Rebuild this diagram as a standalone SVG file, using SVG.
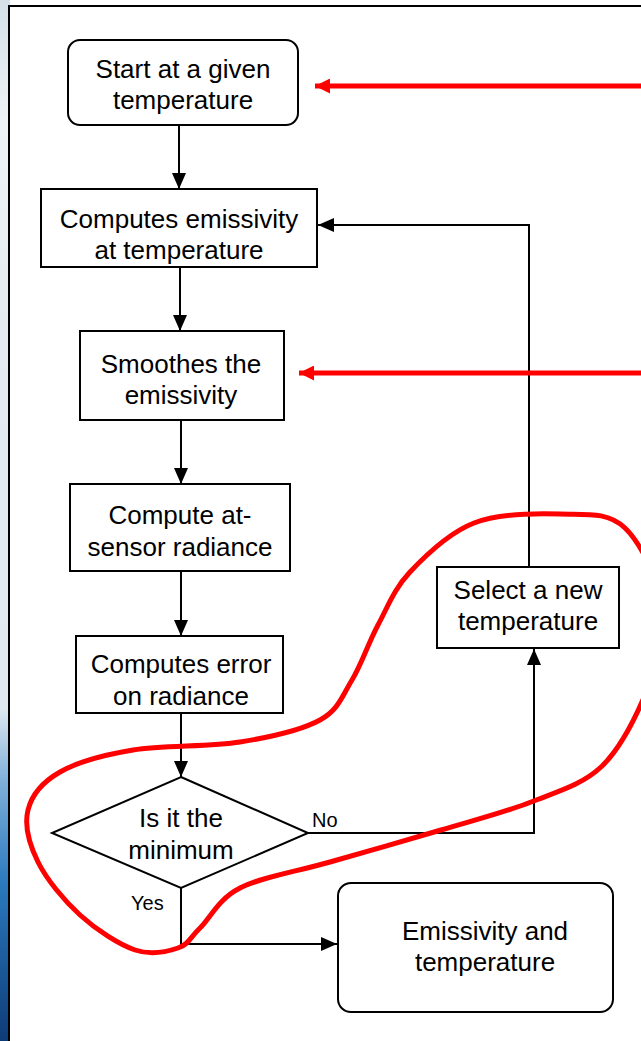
<svg xmlns="http://www.w3.org/2000/svg" width="641" height="1041" viewBox="0 0 641 1041">
<style>
.box{fill:#fff;stroke:#000;stroke-width:2}
.t{font-family:"Liberation Sans",Arial,sans-serif;font-size:26px;fill:#000;text-anchor:middle}
.s{font-family:"Liberation Sans",Arial,sans-serif;font-size:20px;fill:#000}
.c{fill:none;stroke:#000;stroke-width:2}
.r{fill:none;stroke:#ff0000;stroke-width:5}
</style>
<defs>
<linearGradient id="bg" x1="0" y1="0" x2="0" y2="1">
<stop offset="0" stop-color="#d4dfe8"/>
<stop offset="0.12" stop-color="#eef3f7"/>
<stop offset="0.3" stop-color="#e4ebf1"/>
<stop offset="0.68" stop-color="#dfe8f0"/>
<stop offset="0.75" stop-color="#7fb0da"/>
<stop offset="0.85" stop-color="#2a78bd"/>
<stop offset="1" stop-color="#0e3c78"/>
</linearGradient>
<marker id="ah" markerUnits="userSpaceOnUse" markerWidth="16" markerHeight="14" refX="16" refY="7" orient="auto">
<path d="M0,0 L16,7 L0,14 z" fill="#000"/>
</marker>
<marker id="rh" markerUnits="userSpaceOnUse" markerWidth="15" markerHeight="15" refX="15" refY="7.5" orient="auto">
<path d="M0,0 L15,7.5 L0,15 z" fill="#ff0000"/>
</marker>
</defs>
<rect x="0" y="0" width="641" height="1041" fill="#fff"/>
<rect x="0" y="0" width="10" height="1041" fill="url(#bg)"/>
<rect x="9" y="6" width="700" height="1100" fill="#fff" stroke="#000" stroke-width="2"/>

<g id="connectors">
<line class="c" x1="179" y1="125" x2="179" y2="189" marker-end="url(#ah)"/>
<line class="c" x1="180" y1="267" x2="180" y2="331" marker-end="url(#ah)"/>
<line class="c" x1="181" y1="420" x2="181" y2="484" marker-end="url(#ah)"/>
<line class="c" x1="181" y1="571" x2="181" y2="636" marker-end="url(#ah)"/>
<line class="c" x1="181" y1="713" x2="181" y2="777" marker-end="url(#ah)"/>
<polyline class="c" points="308,833 534,833 534,649" marker-end="url(#ah)"/>
<polyline class="c" points="529,567 529,225 318,225" marker-end="url(#ah)"/>
<polyline class="c" points="181,888 181,944 337,944" marker-end="url(#ah)"/>
<text class="s" x="312" y="827">No</text>
<text class="s" x="131" y="910">Yes</text>
</g>

<g id="start">
<rect class="box" x="68" y="40" width="230" height="85" rx="12"/>
<text class="t" x="183" y="78">Start at a given</text>
<text class="t" x="183" y="109">temperature</text>
</g>
<g id="emis">
<rect class="box" x="41" y="189" width="276" height="78"/>
<text class="t" x="179" y="228">Computes emissivity</text>
<text class="t" x="179" y="259">at temperature</text>
</g>
<g id="smooth">
<rect class="box" x="80" y="331" width="204" height="89"/>
<text class="t" x="181" y="373">Smoothes the</text>
<text class="t" x="181" y="404">emissivity</text>
</g>
<g id="radiance">
<rect class="box" x="70" y="484" width="220" height="87"/>
<text class="t" x="180" y="524">Compute at-</text>
<text class="t" x="180" y="556">sensor radiance</text>
</g>
<g id="error">
<rect class="box" x="76" y="636" width="207" height="77"/>
<text class="t" x="181" y="673">Computes error</text>
<text class="t" x="181" y="705">on radiance</text>
</g>
<g id="decision">
<polygon class="box" points="181,777 308,833 181,888 52,833"/>
<text class="t" x="181" y="827">Is it the</text>
<text class="t" x="181" y="859">minimum</text>
</g>
<g id="select">
<rect class="box" x="437" y="567" width="182" height="81"/>
<text class="t" x="528" y="599">Select a new</text>
<text class="t" x="528" y="630">temperature</text>
</g>
<g id="result">
<rect class="box" x="338" y="883" width="275" height="129" rx="13"/>
<text class="t" x="485" y="940">Emissivity and</text>
<text class="t" x="485" y="971">temperature</text>
</g>

<g id="annotations">
<line class="r" x1="645" y1="86" x2="315" y2="86" marker-end="url(#rh)"/>
<line class="r" x1="645" y1="373" x2="299" y2="373" marker-end="url(#rh)"/>
<path class="r" d="M178,948 C167.2,951.7 151.3,955.5 135,950 C118.7,944.5 96.2,929.7 80,915 C63.8,900.3 46.7,879.5 38,862 C29.3,844.5 24.3,825 28,810 C31.7,795 42.5,782 60,772 C77.5,762 103,755 133,750 C163,745 208.8,747 240,742 C271.2,737 301.3,730.3 320,720 C338.7,709.7 342.3,695.8 352,680 C361.7,664.2 368.3,643 378,625 C387.7,607 394,589 410,572 C426,555 449,532.7 474,523 C499,513.3 534.8,513.2 560,514 C585.2,514.8 607.5,511.2 625,528 C642.5,544.8 661.7,587.2 665,615 C668.3,642.8 655.7,669.7 645,695 C634.3,720.3 620,749.2 601,767 C582,784.8 557.7,791.5 531,802 C504.3,812.5 474.5,820 441,830 C407.5,840 363.5,852.3 330,862 C296.5,871.7 261.7,877 240,888 C218.3,899 210.3,918 200,928 C189.7,938 188.8,944.3 178,948 Z"/>
</g>
</svg>
